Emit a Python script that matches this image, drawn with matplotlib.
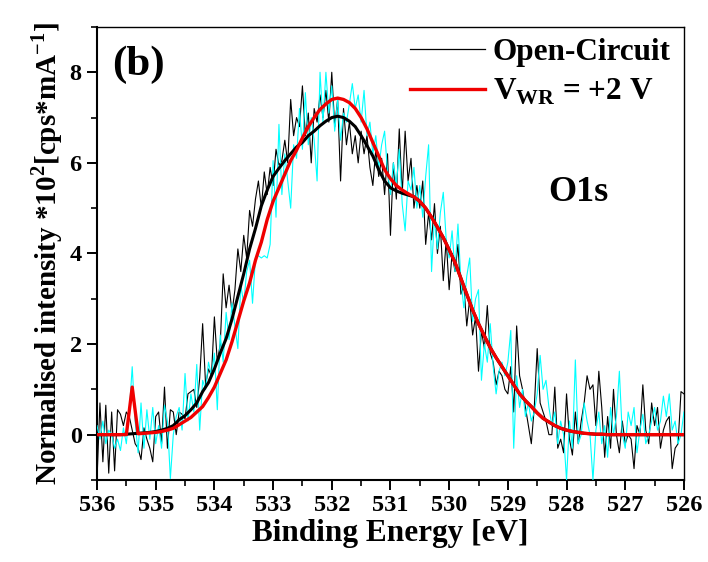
import numpy as np
import matplotlib
matplotlib.use("Agg")
import matplotlib.pyplot as plt
from matplotlib.ticker import MultipleLocator
from matplotlib.lines import Line2D

plt.rcParams['font.family'] = ['Liberation Serif', 'DejaVu Serif']
plt.rcParams['font.weight'] = 'bold'
plt.rcParams['mathtext.fontset'] = 'custom'
plt.rcParams['mathtext.rm'] = 'Liberation Serif:bold'
plt.rcParams['mathtext.bf'] = 'Liberation Serif:bold'

# ---- raw data (binding energy grid 536 -> 526 eV, 0.05 eV step) ----
energy_raw = np.linspace(536.0, 526.0, 201)

open_circuit = [
    -1.0, 0.7, -0.6, 0.65, -0.85, 0.5, -0.8, 0.55, 0.45, 0.2,
    0.5, 0.4, 0.1, -0.2, -0.3, -0.55, 0.15, -0.1, -0.3, -0.6,
    0.4, 0.5, -0.2, 1.05, -0.3, 0.55, 0.5, 0.0, 0.5, 0.45,
    0.35, 0.9, 0.95, 1.0, 0.6, 1.25, 2.45, 1.1, 1.45, 1.3,
    2.6, 1.6, 2.0, 3.55, 2.8, 3.3, 2.7, 3.2, 4.1, 3.6,
    4.4, 3.9, 4.95, 4.6, 5.2, 5.6, 5.0, 5.8, 5.3, 5.9,
    5.5, 6.3, 5.95, 6.05, 6.5, 6.0, 7.4, 6.6, 7.0, 6.8,
    7.7, 6.6, 7.1, 6.0, 7.2, 6.9, 7.5, 7.0, 7.6, 6.9,
    8.0, 6.8, 7.4, 5.6, 7.2, 6.4, 6.9, 6.2, 6.6, 6.0,
    6.7, 6.2, 6.6, 5.9, 5.5, 6.3, 5.7, 6.1, 5.3, 6.2,
    4.4, 6.0, 5.2, 6.75, 5.3, 6.7, 5.6, 6.1, 5.0, 5.5,
    5.0, 5.6, 4.2, 4.9, 4.3, 5.1, 4.0, 4.6, 3.4, 4.3,
    3.2, 4.0, 3.6, 4.2, 3.1, 3.3, 2.4, 3.0, 2.2, 2.6,
    1.4, 2.3, 1.9, 2.85, 1.8, 1.6, 1.1, 1.4, 1.3, 1.0,
    0.9, 1.5, 0.5, 2.4, 1.3, 1.0, 0.6, 0.2, -0.2, 0.6,
    1.9, 0.7, 0.5, 0.3, 0.0, 0.0, 1.05, -0.3, -0.1, -0.4,
    0.9, -0.1, -0.45, 0.5, -0.2, 0.3, 0.7, 1.3, 1.0, 1.1,
    0.2, 1.4, 0.6, -0.5, 0.4, -0.3, 1.0, 0.0, -0.4, 0.3,
    -0.2, 0.0, -0.1, -0.75, 0.2, 0.0, 1.1, 0.1, -0.2, 0.7,
    0.2, 0.6, -0.3, 0.1, 0.3, 0.4, -0.75, -0.3, -0.2, 0.95,
    0.9,
]

v_wr_plus2 = [
    0.2, -0.1, 0.3, -0.2, 0.1, 0.0, -0.3, -0.1, -0.35, 0.15,
    -0.2, 0.5, 1.5, 0.3, -0.4, 0.7, -0.3, 0.55, -0.1, 0.6,
    -0.2, 0.2, -0.3, 0.65, 0.3, -0.97, 0.0, 0.4, 0.6, 0.1,
    1.35, 0.3, 0.9, 0.5, 1.55, 0.1, 1.2, 1.0, 1.6, 1.3,
    1.8, 0.55, 2.2, 1.6, 2.7, 2.1, 2.9, 2.4, 1.9, 3.3,
    2.9, 3.6, 3.85, 2.9, 3.9, 3.95, 3.9, 3.95, 3.9, 4.2,
    6.05, 4.8, 6.85, 5.3, 6.2, 5.6, 5.0, 6.4, 6.1, 7.2,
    6.3, 7.55, 6.4, 7.0, 6.5, 5.6, 8.0, 6.9, 8.0, 7.1,
    7.7, 6.7, 7.4, 6.5, 7.1, 6.9, 7.3, 7.75, 7.2, 7.5,
    6.9, 7.6, 6.6, 6.9, 6.2, 6.6, 5.9, 6.4, 6.7, 5.8,
    5.3, 6.0, 5.5, 6.3, 5.1, 4.5, 5.6, 5.4, 5.9, 5.0,
    5.5, 4.8, 5.7, 6.4, 3.6, 4.8, 4.1, 4.9, 5.35, 4.3,
    3.9, 4.5, 3.6, 4.65, 3.4, 2.8, 3.5, 3.9, 2.5, 3.0,
    3.2, 1.2, 2.0, 1.6, 2.45, 1.5, 0.9, 1.4, 1.6, 1.3,
    1.6, 2.3, -0.3, 1.3, 0.6, 1.0, 0.4, 0.7, 0.3, 0.5,
    0.9, 1.75, 1.0, 1.2, 0.6, 0.2, 0.5, -0.2, 0.3, 0.0,
    -1.0, 0.3, -0.3, 1.65, -0.2, 0.0, 0.7, 0.3, 0.0, -1.0,
    0.1, 0.5, -0.2, 0.2, -0.5, 0.6, 0.0, 0.4, 1.4, 0.0,
    -0.3, 0.5, 0.2, 0.6, -0.4, 0.1, 0.45, -0.2, 0.0, 0.3,
    0.6, 0.1, 0.3, 0.85, 0.4, 0.9, 0.1, 0.3, -0.2, 0.0,
    0.5,
]

# ---- fitted envelopes (0.1 eV step) ----
energy_fit = np.linspace(536.0, 526.0, 101)

fit_open_circuit = [
    0.00, 0.00, 0.00, 0.00, 0.00, 0.01, 0.02, 0.03, 0.04, 0.05,
    0.07, 0.10, 0.14, 0.20, 0.33, 0.42, 0.55, 0.70, 0.95, 1.15,
    1.45, 1.80, 2.12, 2.55, 3.05, 3.55, 4.10, 4.55, 5.05, 5.40,
    5.70, 5.88, 6.05, 6.20, 6.35, 6.45, 6.60, 6.70, 6.82, 6.92,
    7.00, 7.03, 7.00, 6.92, 6.80, 6.60, 6.38, 6.15, 5.85, 5.60,
    5.45, 5.38, 5.33, 5.29, 5.25, 5.15, 5.00, 4.80, 4.58, 4.35,
    4.08, 3.80, 3.45, 3.10, 2.75, 2.45, 2.18, 1.92, 1.70, 1.50,
    1.30, 1.10, 0.90, 0.75, 0.62, 0.48, 0.36, 0.28, 0.20, 0.14,
    0.10, 0.07, 0.05, 0.03, 0.02, 0.01, 0.01, 0.00, 0.00, 0.00,
    0.00, 0.00, 0.00, 0.00, 0.00, 0.00, 0.00, 0.00, 0.00, 0.00,
    0.00,
]

fit_v_wr_plus2 = [
    0.00, 0.00, 0.00, 0.00, 0.00, 0.00, 1.05, 0.02, 0.03, 0.04,
    0.05, 0.07, 0.10, 0.14, 0.22, 0.30, 0.38, 0.50, 0.62, 0.82,
    1.05, 1.35, 1.65, 2.05, 2.50, 2.95, 3.35, 3.85, 4.25, 4.75,
    5.15, 5.45, 5.75, 6.05, 6.28, 6.55, 6.80, 7.00, 7.18, 7.30,
    7.40, 7.43, 7.40, 7.33, 7.20, 7.00, 6.75, 6.45, 6.15, 5.85,
    5.65, 5.50, 5.40, 5.32, 5.25, 5.15, 5.00, 4.80, 4.58, 4.35,
    4.08, 3.80, 3.45, 3.10, 2.75, 2.45, 2.18, 1.92, 1.70, 1.50,
    1.30, 1.10, 0.90, 0.75, 0.62, 0.48, 0.36, 0.28, 0.20, 0.14,
    0.10, 0.07, 0.05, 0.03, 0.02, 0.01, 0.01, 0.00, 0.00, 0.00,
    0.00, 0.00, 0.00, 0.00, 0.00, 0.00, 0.00, 0.00, 0.00, 0.00,
    0.00,
]

x_ticks = [536, 535, 534, 533, 532, 531, 530, 529, 528, 527, 526]
y_ticks = [0, 2, 4, 6, 8]

fig = plt.figure(figsize=(7.08, 5.62), dpi=100)
ax = fig.add_axes([0.137, 0.146, 0.829, 0.806])

ax.plot(energy_raw, open_circuit, color='black', lw=0.8, zorder=2)
ax.plot(energy_raw, v_wr_plus2, color='cyan', lw=0.8, zorder=3)
ax.plot(energy_fit, fit_open_circuit, color='black', lw=2.2, zorder=4)
ax.plot(energy_fit, fit_v_wr_plus2, color='#f00000', lw=2.4, zorder=5)

ax.set_xlim(536, 526)
ax.set_ylim(-1, 9)
ax.set_xticks(x_ticks)
ax.set_xticklabels([str(t) for t in x_ticks])
ax.set_yticks(y_ticks)
ax.xaxis.set_minor_locator(MultipleLocator(0.5))
ax.yaxis.set_minor_locator(MultipleLocator(1))
ax.tick_params(axis='both', which='major', direction='out', length=7, width=1.4,
               labelsize=17.5, top=False, right=False, pad=4)
ax.tick_params(axis='both', which='minor', direction='out', length=4, width=1.2,
               top=False, right=False)
for lab in ax.get_xticklabels() + ax.get_yticklabels():
    lab.set_fontweight('bold')
for s in ['left', 'bottom']:
    ax.spines[s].set_linewidth(1.5)
for s in ['top', 'right']:
    ax.spines[s].set_linewidth(1.0)

ax.set_xlabel('Binding Energy [eV]', fontsize=22.5, fontweight='bold', labelpad=2)
ax.set_ylabel(r'Normalised intensity *10$^{2}$[cps*mA$^{-1}$]', fontsize=21,
              fontweight='bold', labelpad=3)

ax.text(0.026, 0.958, '(b)', transform=ax.transAxes, fontsize=31,
        fontweight='bold', va='top', ha='left')
ax.text(0.82, 0.634, 'O1s', transform=ax.transAxes, fontsize=26,
        fontweight='bold', ha='center', va='center')

handles = [Line2D([], [], color='black', lw=0.9),
           Line2D([], [], color='#f00000', lw=2.4)]
labels = ['Open-Circuit', r'V$_{\mathbf{WR}}$ = +2 V']
leg = ax.legend(handles, labels, loc='upper left', bbox_to_anchor=(0.533, 0.975),
                frameon=False, fontsize=22.5, handlelength=2.4, handletextpad=0.25,
                labelspacing=0.3, borderaxespad=0.0, borderpad=0.0)
for t in leg.get_texts():
    t.set_fontweight('bold')

fig.savefig('out.png', dpi=100)
